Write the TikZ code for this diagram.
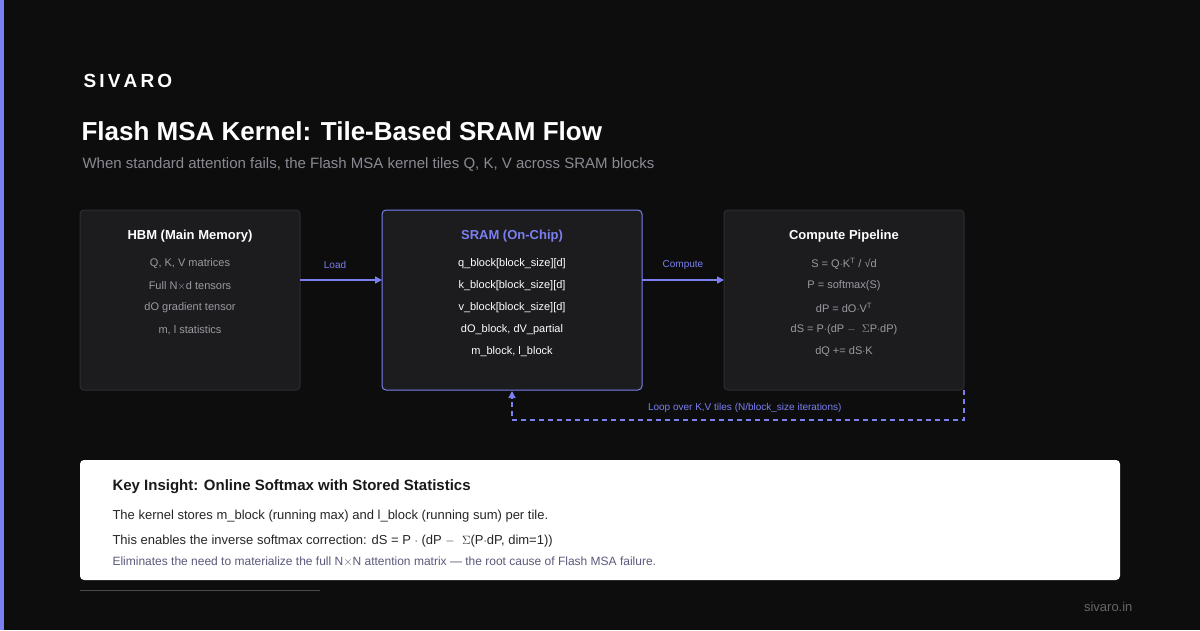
\documentclass[tikz,border=0pt]{standalone}
\usepackage{fontspec}
\setmainfont{Liberation Sans}
\usetikzlibrary{arrows.meta}
\definecolor{bg}{HTML}{0D0D0E}
\definecolor{boxbg}{HTML}{1C1C1F}
\definecolor{boxbd}{HTML}{2E2E32}
\definecolor{acc}{HTML}{7B7FF0}
\definecolor{gtxt}{HTML}{9A9AA0}
\definecolor{sub}{HTML}{8A8A92}
\begin{document}
\begin{tikzpicture}[x=1pt,y=-1pt,
  box/.style={draw=boxbd,fill=boxbg,rounded corners=4pt,line width=1pt},
  ttl/.style={font=\fontsize{13}{15}\selectfont\bfseries,text=white},
  ln/.style={font=\fontsize{11}{13}\selectfont,text=gtxt},
  lnw/.style={font=\fontsize{11}{13}\selectfont,text=white!92},
  arr/.style={draw=acc,line width=1.5pt,-{Triangle[length=7pt,width=7pt]}},
  lab/.style={font=\fontsize{10}{12}\selectfont,text=acc}]
\fill[bg] (0,0) rectangle (1200,630);
\useasboundingbox (0,0) rectangle (1200,630);
\fill[acc] (0,0) rectangle (4,630);
\node[anchor=west,font=\fontsize{19}{22}\selectfont\bfseries,text=white] (brand) at (80,81) {S\,I\,V\,A\,R\,O};
\node[anchor=west,font=\fontsize{26}{30}\selectfont\bfseries,text=white] (title) at (78,131) {Flash MSA Kernel: Tile-Based SRAM Flow};
\node[anchor=west,font=\fontsize{15}{18}\selectfont,text=sub] (subt) at (79,164) {When standard attention fails, the Flash MSA kernel tiles Q, K, V across SRAM blocks};
% boxes
\draw[box] (80,210) rectangle (300,390);
\node (hbm) at (190,300) {};
\draw[box,draw=acc] (382,210) rectangle (642,390);
\node (sram) at (512,300) {};
\draw[box] (724,210) rectangle (964,390);
\node (comp) at (844,300) {};
\node[ttl] at (190,236) {HBM (Main Memory)};
\node[ln] at (190,264) {Q, K, V matrices};
\node[ln] at (190,286) {Full N$\times$d tensors};
\node[ln] at (190,308) {dO gradient tensor};
\node[ln] at (190,330) {m, l statistics};
\node[ttl,text=acc] at (512,236) {SRAM (On-Chip)};
\node[lnw] at (512,264) {q\_block[block\_size][d]};
\node[lnw] at (512,286) {k\_block[block\_size][d]};
\node[lnw] at (512,308) {v\_block[block\_size][d]};
\node[lnw] at (512,330) {dO\_block, dV\_partial};
\node[lnw] at (512,352) {m\_block, l\_block};
\node[ttl] at (844,236) {Compute Pipeline};
\node[ln] at (844,264) {S = Q$\cdot$K\textsuperscript{T} / \textsurd d};
\node[ln] at (844,286) {P = softmax(S)};
\node[ln] at (844,308) {dP = dO$\cdot$V\textsuperscript{T}};
\node[ln] at (844,330) {dS = P$\cdot$(dP $-$ \ $\Sigma$P$\cdot$dP)};
\node[ln] at (844,352) {dQ += dS$\cdot$K};
\coordinate (a1) at (300,280); \coordinate (a2) at (382,280);
\coordinate (b1) at (642,280); \coordinate (b2) at (724,280);
\draw[arr] (a1) -- (a2);
\draw[arr] (b1) -- (b2);
\node[lab] at (335,265) {Load};
\node[lab] at (683,265) {Compute};
\coordinate (l1) at (964,390); \coordinate (l2) at (964,420);
\coordinate (l3) at (512,420); \coordinate (l4) at (512,391);
\draw[draw=acc,line width=1.3pt,dash pattern=on 5pt off 4pt,-{Triangle[length=7pt,width=7pt]}] (l1) -- (l2) -- (l3) -- (l4);
\node[lab,anchor=east] at (845,408) {Loop over K,V tiles (N/block\_size iterations)};
% insight
\fill[white,rounded corners=4pt] (80,460) rectangle (1120,580);
\node[anchor=west,font=\fontsize{15}{18}\selectfont\bfseries,text=black!90] at (109,487) {Key Insight: Online Softmax with Stored Statistics};
\node[anchor=west,font=\fontsize{13}{15}\selectfont,text=black!85] at (109,516) {The kernel stores m\_block (running max) and l\_block (running sum) per tile.};
\node[anchor=west,font=\fontsize{13}{15}\selectfont,text=black!85] at (109,541) {This enables the inverse softmax correction: dS = P $\cdot$ (dP $-$ \ $\Sigma$(P$\cdot$dP, dim=1))};
\node[anchor=west,font=\fontsize{12}{14}\selectfont,text=black!55!blue!30!gray] at (109,562) {Eliminates the need to materialize the full N$\times$N attention matrix — the root cause of Flash MSA failure.};
\draw[draw=black!70!white,line width=0.8pt] (80,590) -- (320,590);
\node[anchor=east,font=\fontsize{13}{15}\selectfont,text=black!60!white] at (1136,607) {sivaro.in};
\end{tikzpicture}
\end{document}
